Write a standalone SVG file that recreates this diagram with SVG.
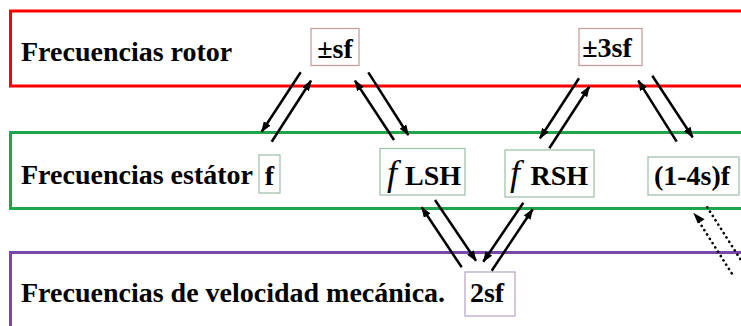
<svg xmlns="http://www.w3.org/2000/svg" width="741" height="326" viewBox="0 0 741 326">
<defs>
<style>
.lbl{font-family:"Liberation Serif","Times New Roman",serif;font-weight:bold;font-size:28px;fill:#000}
.it{font-family:"Liberation Serif","Times New Roman",serif;font-style:italic;font-size:36px;fill:#000}
.band{fill:none;stroke-width:3}
.arr{stroke:#000;stroke-width:2.5;fill:none;marker-end:url(#ah)}
.dot{stroke:#000;stroke-width:2.6;fill:none;stroke-dasharray:0.1 5;stroke-linecap:round}
.bxr{fill:#fff;stroke:#c49a9a;stroke-width:1.2}
.bxg{fill:#fff;stroke:#9cbfa8;stroke-width:1.2}
.bxp{fill:#fff;stroke:#b2a2c8;stroke-width:1.2}
</style>
<marker id="ah" markerUnits="userSpaceOnUse" markerWidth="11" markerHeight="8" refX="10" refY="4" orient="auto">
<path d="M0,0 L11,4 L0,8 z" fill="#000"/>
</marker>
</defs>
<g id="band-rotor"><rect class="band" x="10.5" y="11" width="760" height="75" stroke="#ff0000"/>
<text class="lbl" x="21" y="61">Frecuencias rotor</text></g>
<g id="band-estator"><rect class="band" x="10.5" y="132.5" width="760" height="76" stroke="#1fa64c"/>
<text class="lbl" x="21" y="184">Frecuencias estátor</text></g>
<g id="band-mec"><rect class="band" x="10.5" y="252.5" width="760" height="100" stroke="#7a48a8"/>
<text class="lbl" x="21" y="302">Frecuencias de velocidad mecánica.</text></g>
<g id="n-sf"><rect class="bxr" x="311" y="28.5" width="48" height="37"/><text class="lbl" x="335" y="58" text-anchor="middle">±sf</text></g>
<g id="n-3sf"><rect class="bxr" x="579" y="28.5" width="63" height="37"/><text class="lbl" x="607" y="57" text-anchor="middle">±3sf</text></g>
<g id="n-f"><rect class="bxg" x="259" y="155" width="21" height="38"/><text class="lbl" x="269.5" y="185" text-anchor="middle">f</text></g>
<g id="n-flsh"><rect class="bxg" x="380" y="148.5" width="85" height="46.5"/><text class="it" x="387" y="185">f</text><text class="lbl" x="405" y="185">LSH</text></g>
<g id="n-frsh"><rect class="bxg" x="505" y="150" width="89" height="47"/><text class="it" x="510" y="185">f</text><text class="lbl" x="530.5" y="185" font-size="27">RSH</text></g>
<g id="n-14sf"><rect class="bxg" x="648" y="157" width="91" height="38"/><text class="lbl" x="692" y="185" text-anchor="middle" font-size="29">(1-4s)f</text></g>
<g id="n-2sf"><rect class="bxp" x="465" y="272" width="50" height="44"/><text class="lbl" x="487" y="302" text-anchor="middle">2sf</text></g>
<g id="connectors">
<line class="arr" x1="300.7" y1="72.3" x2="261.7" y2="131.7"/>
<line class="arr" x1="271.7" y1="141.7" x2="311" y2="80.7"/>
<line class="arr" x1="394" y1="140" x2="355" y2="80.7"/>
<line class="arr" x1="368.3" y1="72.3" x2="408.3" y2="135"/>
<line class="arr" x1="579" y1="78.3" x2="540" y2="138.3"/>
<line class="arr" x1="549.3" y1="148.3" x2="589.3" y2="86.7"/>
<line class="arr" x1="676.7" y1="141.7" x2="638.3" y2="80.7"/>
<line class="arr" x1="652.3" y1="75.7" x2="692.7" y2="137.3"/>
<line class="arr" x1="461.7" y1="267.3" x2="421.7" y2="207.3"/>
<line class="arr" x1="435" y1="200" x2="476" y2="260.7"/>
<line class="arr" x1="523.3" y1="202.7" x2="483.3" y2="261.7"/>
<line class="arr" x1="491.7" y1="270.7" x2="532.7" y2="209.3"/>
<line class="dot" x1="731.7" y1="273.3" x2="697" y2="218.5"/>
<path d="M693.3,212.7 L704.6,219.2 L697.8,223.5 z" fill="#000"/>
<line class="dot" x1="707.3" y1="207.3" x2="760" y2="290"/>
</g>
</svg>
